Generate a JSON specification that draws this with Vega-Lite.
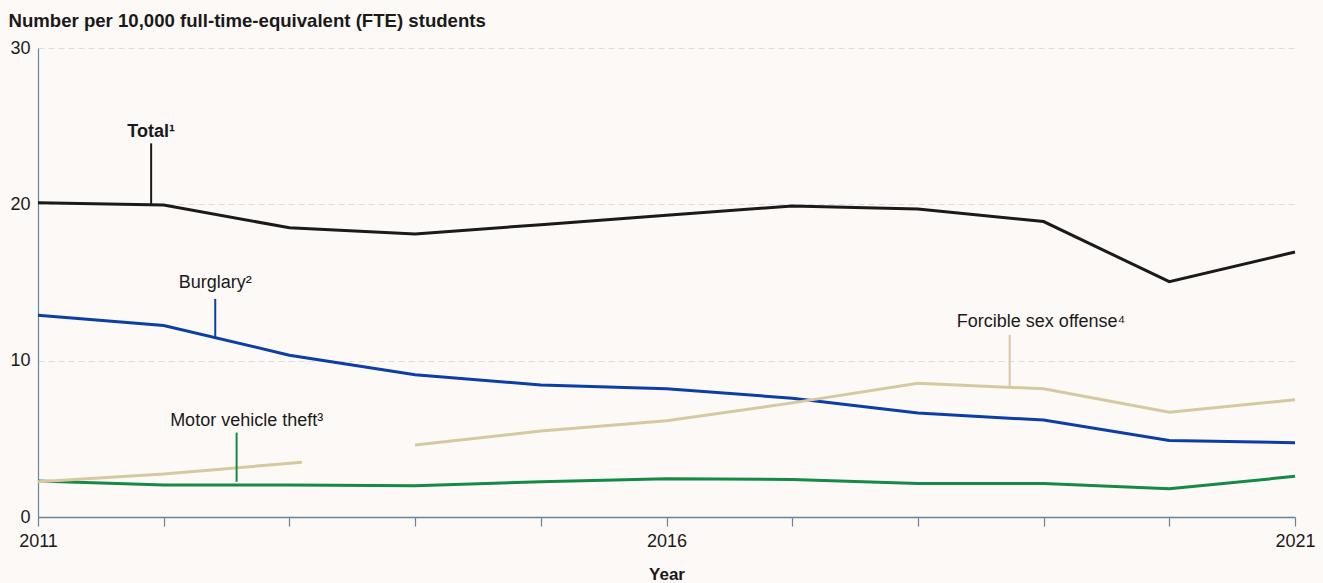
{
  "$schema": "https://vega.github.io/schema/vega-lite/v6.json",
  "autosize": "none",
  "width": 1257,
  "height": 469,
  "padding": {"left": 38, "top": 48, "right": 28, "bottom": 66},
  "background": "#fdf9f6",
  "config": {"view": {"stroke": null}, "font": "Liberation Sans"},
  "datasets": {
    "series": [
      {"series": "Total", "seg": "a", "year": 2011, "value": 20.1},
      {"series": "Total", "seg": "a", "year": 2012, "value": 19.96},
      {"series": "Total", "seg": "a", "year": 2013, "value": 18.5},
      {"series": "Total", "seg": "a", "year": 2014, "value": 18.1},
      {"series": "Total", "seg": "a", "year": 2015, "value": 18.7},
      {"series": "Total", "seg": "a", "year": 2016, "value": 19.3},
      {"series": "Total", "seg": "a", "year": 2017, "value": 19.9},
      {"series": "Total", "seg": "a", "year": 2018, "value": 19.7},
      {"series": "Total", "seg": "a", "year": 2019, "value": 18.9},
      {"series": "Total", "seg": "a", "year": 2020, "value": 15.05},
      {"series": "Total", "seg": "a", "year": 2021, "value": 16.95},
      {"series": "Burglary", "seg": "a", "year": 2011, "value": 12.9},
      {"series": "Burglary", "seg": "a", "year": 2012, "value": 12.25},
      {"series": "Burglary", "seg": "a", "year": 2013, "value": 10.35},
      {"series": "Burglary", "seg": "a", "year": 2014, "value": 9.1},
      {"series": "Burglary", "seg": "a", "year": 2015, "value": 8.45},
      {"series": "Burglary", "seg": "a", "year": 2016, "value": 8.2},
      {"series": "Burglary", "seg": "a", "year": 2017, "value": 7.6},
      {"series": "Burglary", "seg": "a", "year": 2018, "value": 6.65},
      {"series": "Burglary", "seg": "a", "year": 2019, "value": 6.2},
      {"series": "Burglary", "seg": "a", "year": 2020, "value": 4.9},
      {"series": "Burglary", "seg": "a", "year": 2021, "value": 4.75},
      {"series": "Motor vehicle theft", "seg": "a", "year": 2011, "value": 2.3},
      {"series": "Motor vehicle theft", "seg": "a", "year": 2012, "value": 2.05},
      {"series": "Motor vehicle theft", "seg": "a", "year": 2013, "value": 2.05},
      {"series": "Motor vehicle theft", "seg": "a", "year": 2014, "value": 2.0},
      {"series": "Motor vehicle theft", "seg": "a", "year": 2015, "value": 2.25},
      {"series": "Motor vehicle theft", "seg": "a", "year": 2016, "value": 2.45},
      {"series": "Motor vehicle theft", "seg": "a", "year": 2017, "value": 2.4},
      {"series": "Motor vehicle theft", "seg": "a", "year": 2018, "value": 2.15},
      {"series": "Motor vehicle theft", "seg": "a", "year": 2019, "value": 2.15},
      {"series": "Motor vehicle theft", "seg": "a", "year": 2020, "value": 1.8},
      {"series": "Motor vehicle theft", "seg": "a", "year": 2021, "value": 2.6},
      {"series": "Forcible sex offense", "seg": "a", "year": 2011, "value": 2.25},
      {"series": "Forcible sex offense", "seg": "a", "year": 2012, "value": 2.75},
      {"series": "Forcible sex offense", "seg": "a", "year": 2013.1, "value": 3.5},
      {"series": "Forcible sex offense", "seg": "b", "year": 2014, "value": 4.6},
      {"series": "Forcible sex offense", "seg": "b", "year": 2015, "value": 5.5},
      {"series": "Forcible sex offense", "seg": "b", "year": 2016, "value": 6.15},
      {"series": "Forcible sex offense", "seg": "b", "year": 2017, "value": 7.3},
      {"series": "Forcible sex offense", "seg": "b", "year": 2018, "value": 8.55},
      {"series": "Forcible sex offense", "seg": "b", "year": 2019, "value": 8.2},
      {"series": "Forcible sex offense", "seg": "b", "year": 2020, "value": 6.7},
      {"series": "Forcible sex offense", "seg": "b", "year": 2021, "value": 7.5}
    ],
    "labels": [
      {"series": "Total", "text": "Total¹", "x": 2011.9, "y": 24.6, "y1": 20.0, "y2": 23.9, "lx": 2011.9, "weight": "bold"},
      {"series": "Burglary", "text": "Burglary²", "x": 2012.41, "y": 15.0, "y1": 11.45, "y2": 13.95, "lx": 2012.41, "weight": "normal"},
      {"series": "Motor vehicle theft", "text": "Motor vehicle theft³", "x": 2012.66, "y": 6.15, "y1": 2.25, "y2": 5.4, "lx": 2012.58, "weight": "normal"},
      {"series": "Forcible sex offense", "text": "Forcible sex offense⁴", "x": 2018.98, "y": 12.5, "y1": 8.38, "y2": 11.65, "lx": 2018.73, "weight": "normal"}
    ]
  },
  "layer": [
    {
      "data": {"name": "series"},
      "mark": {"type": "line", "strokeWidth": 3, "clip": false},
      "encoding": {
        "x": {
          "field": "year", "type": "quantitative",
          "scale": {"domain": [2011, 2021], "nice": false, "zero": false},
          "axis": {
            "title": "Year", "titleFontSize": 17, "titleFontWeight": "bold", "titleColor": "#1a1a1a",
            "titlePadding": 16,
            "values": [2011, 2012, 2013, 2014, 2015, 2016, 2017, 2018, 2019, 2020, 2021],
            "format": "d",
            "labelExpr": "(datum.value == 2011 || datum.value == 2016 || datum.value == 2021) ? datum.label : ''",
            "labelFontSize": 18, "labelColor": "#1a1a1a", "labelPadding": 6, "labelFlush": false,
            "tickSize": 9, "tickColor": "#6b8297", "domainColor": "#6b8297", "domainWidth": 1.5, "tickWidth": 1.2,
            "grid": false
          }
        },
        "y": {
          "field": "value", "type": "quantitative",
          "scale": {"domain": [0, 30], "nice": false},
          "axis": {
            "title": "Number per 10,000 full-time-equivalent (FTE) students",
            "titleAngle": 0, "titleAlign": "left", "titleBaseline": "alphabetic",
            "titleX": -30, "titleY": -22, "titleFontSize": 18.6, "titleFontWeight": "bold", "titleColor": "#1a1a1a",
            "values": [0, 10, 20, 30], "labelFontSize": 18, "labelColor": "#1a1a1a", "labelPadding": 8,
            "ticks": false, "domainColor": "#6b8297", "domainWidth": 1.2,
            "grid": true, "gridDash": [6, 4], "gridColor": "#d9dde2", "gridWidth": 1
          }
        },
        "color": {
          "field": "series", "type": "nominal",
          "scale": {
            "domain": ["Total", "Burglary", "Motor vehicle theft", "Forcible sex offense"],
            "range": ["#1a1a1a", "#0b3ea6", "#148a45", "#d6c9a0"]
          },
          "legend": null
        },
        "detail": {"field": "seg"}
      }
    },
    {
      "data": {"name": "labels"},
      "mark": {"type": "rule", "strokeWidth": 2},
      "encoding": {
        "x": {"field": "lx", "type": "quantitative"},
        "y": {"field": "y1", "type": "quantitative"},
        "y2": {"field": "y2"},
        "color": {"field": "series", "type": "nominal", "legend": null}
      }
    },
    {
      "data": {"name": "labels"},
      "transform": [{"filter": "datum.weight == 'bold'"}],
      "mark": {"type": "text", "fontSize": 18, "fontWeight": "bold", "color": "#1a1a1a", "align": "center", "baseline": "middle"},
      "encoding": {
        "x": {"field": "x", "type": "quantitative"},
        "y": {"field": "y", "type": "quantitative"},
        "text": {"field": "text"}
      }
    },
    {
      "data": {"name": "labels"},
      "transform": [{"filter": "datum.weight != 'bold'"}],
      "mark": {"type": "text", "fontSize": 18, "color": "#1a1a1a", "align": "center", "baseline": "middle"},
      "encoding": {
        "x": {"field": "x", "type": "quantitative"},
        "y": {"field": "y", "type": "quantitative"},
        "text": {"field": "text"}
      }
    }
  ]
}
